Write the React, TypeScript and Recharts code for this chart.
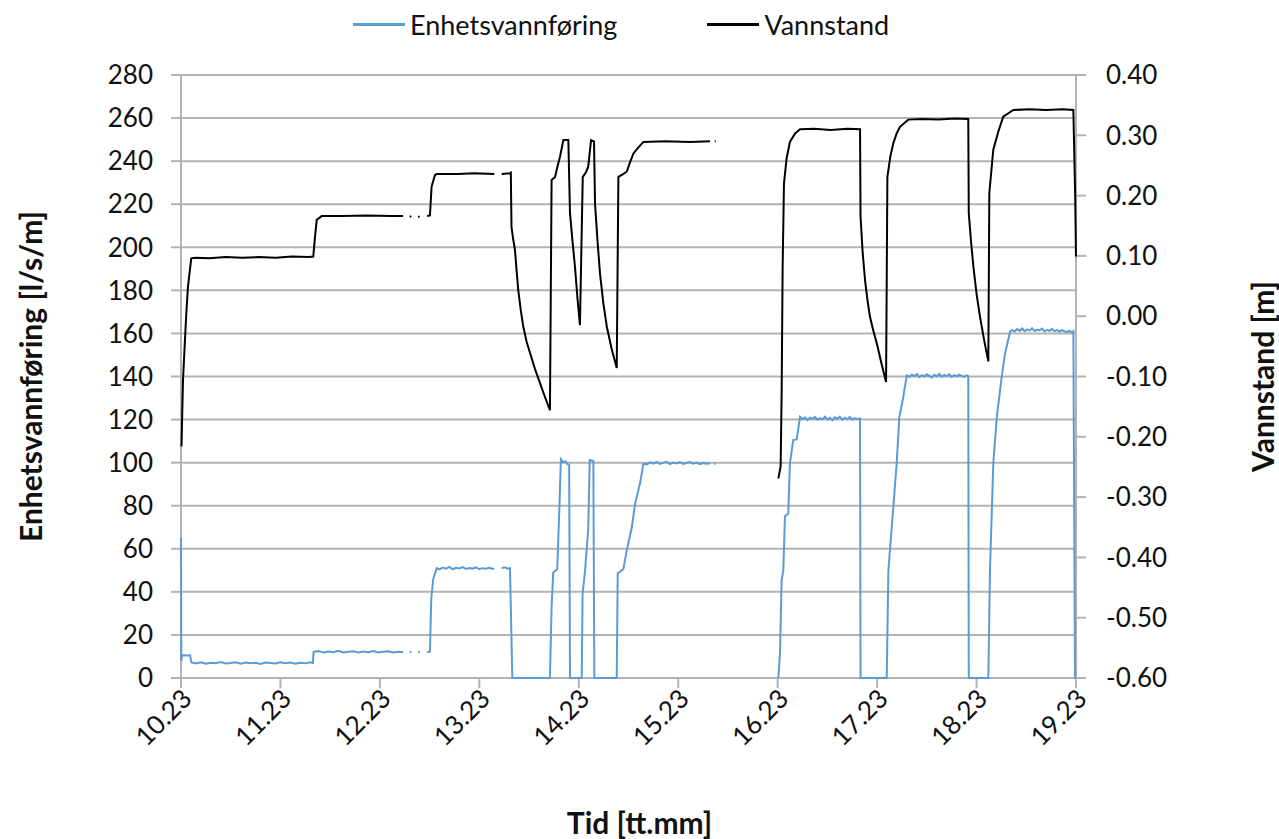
import { LineChart, Line, XAxis, YAxis, CartesianGrid, Legend } from 'recharts'

// time is minutes of the day (10.23 = 623)
const TIME_TICKS = [623, 683, 743, 803, 863, 923, 983, 1043, 1103, 1163]
const FLOW_TICKS = [0, 20, 40, 60, 80, 100, 120, 140, 160, 180, 200, 220, 240, 260, 280]
const LEVEL_TICKS = [-0.6, -0.5, -0.4, -0.3, -0.2, -0.1, 0, 0.1, 0.2, 0.3, 0.4]

// Enhetsvannføring [l/s/m]
const flowPoints: [number, number | null][] = [
  [623, 65], [623.2, 8], [623.6, 10.5], [625, 10.6], [627, 10.4], [628.5, 10.5], [629.3, 7.2],
  [632, 6.8], [635, 7.3], [638, 6.6], [641, 7.1], [644, 6.9], [647, 7.4], [650, 6.7], [653, 7.0],
  [656, 7.3], [659, 6.6], [662, 7.2], [665, 6.8], [668, 7.1], [671, 6.5], [674, 7.2], [677, 7.0],
  [680, 6.7], [683, 7.3], [686, 6.9], [689, 7.2], [692, 6.6], [695, 7.1], [698, 6.8], [701, 7.3],
  [702.6, 7.0], [703, 12.1], [706, 12.5], [709, 11.8], [712, 12.3], [715, 12.0], [718, 12.6],
  [721, 11.9], [724, 12.2], [727, 12.4], [730, 11.8], [733, 12.3], [736, 12.0], [739, 12.5],
  [742, 11.9], [745, 12.2], [748, 12.4], [751, 11.9], [754, 12.2], [757, 12.0], [757.2, null],
  [761, 12], [762, 12.2], [762.2, null], [766, 12.1], [767, 12], [767.2, null],
  [771.5, 12], [773.2, 12.2], [774, 37], [775.2, 46], [777.3, 51],
  [779, 50.4], [781, 51.3], [783, 50.8], [785, 51.6], [787, 50.5], [789, 51.2], [791, 50.9],
  [793, 51.5], [795, 50.6], [797, 51.1], [799, 50.8], [801, 51.4], [803, 50.5], [805, 51.0],
  [807, 50.7], [809, 51.2], [811, 50.6], [812, 50.9], [812.2, null],
  [816.5, 51], [818.5, 51.4], [820, 50.8], [821.5, 51], [822, 33], [822.9, 0],
  [845.6, 0], [846.6, 33], [847.6, 49], [850, 50.5], [851.3, 79], [852.2, 101.5], [853.5, 100.2],
  [855, 100.6], [856.1, 99.3], [857.2, 99], [857.7, 0], [864.8, 0], [865.3, 39], [866.8, 50],
  [868.7, 69], [869.6, 101.2], [871.8, 100.8], [872.4, 0], [885.9, 0], [886.5, 48.6],
  [889.9, 50.5], [892, 59.5], [895, 70], [897, 81], [900, 90.5], [902, 99.6],
  [904, 99.2], [906, 100.1], [908, 99.5], [910, 100.3], [912, 99.4], [914, 99.9], [916, 100.4],
  [918, 99.3], [920, 100.0], [922, 99.6], [924, 100.2], [926, 99.4], [928, 99.8], [930, 100.3],
  [932, 99.5], [934, 100.0], [936, 99.3], [938, 99.8], [940, 99.5], [942.2, 99.7], [942.4, null],
  [944.8, 99.6], [945.6, 99.4], [945.8, null],
  [983.4, 0], [984.4, 11.5], [985.4, 45.5], [986.4, 50], [987.4, 75], [989.4, 76.5], [990.4, 99.7],
  [992.4, 110.5], [994.5, 110.8], [996.5, 121.3],
  [998, 120.2], [999.5, 121.0], [1001, 119.8], [1002.5, 120.9], [1004, 120.3], [1005.5, 121.2],
  [1007, 119.9], [1008.5, 120.7], [1010, 120.1], [1011.5, 121.3], [1013, 120.0], [1014.5, 120.8],
  [1016, 119.7], [1017.5, 121.1], [1019, 120.4], [1020.5, 121.4], [1022, 120.0], [1023.5, 120.9],
  [1025, 120.2], [1026.5, 121.2], [1028, 119.9], [1029.5, 120.7], [1031, 120.3], [1032.7, 120.5],
  [1033, 0], [1048.8, 0], [1049.8, 50], [1052.8, 79.5], [1054.8, 99.7], [1056.4, 121],
  [1058.8, 130.6], [1060.9, 140.5],
  [1062.5, 139.8], [1064, 140.9], [1065.5, 140.2], [1067, 141.1], [1068.5, 139.7], [1070, 140.6],
  [1071.5, 140.0], [1073, 141.0], [1074.5, 140.3], [1076, 139.6], [1077.5, 140.8], [1079, 140.1],
  [1080.5, 141.2], [1082, 139.9], [1083.5, 140.7], [1085, 140.2], [1086.5, 141.0], [1088, 139.8],
  [1089.5, 140.6], [1091, 140.1], [1092.5, 140.9], [1094, 140.3], [1095.5, 139.8], [1097, 140.5],
  [1098, 140.2], [1098.3, 0], [1110.1, 0], [1111.1, 50], [1113.1, 99.7], [1115.2, 121],
  [1118.2, 140], [1120.2, 150.7], [1123.2, 160.8],
  [1124.5, 161.6], [1126, 160.9], [1127.5, 162.0], [1129, 161.2], [1130.5, 162.3], [1132, 161.0],
  [1133.5, 161.9], [1135, 161.3], [1136.5, 162.4], [1138, 161.1], [1139.5, 161.8], [1141, 161.4],
  [1142.5, 162.2], [1144, 160.9], [1145.5, 161.7], [1147, 161.2], [1148.5, 162.1], [1150, 161.0],
  [1151.5, 161.6], [1153, 160.8], [1154.5, 161.5], [1156, 161.0], [1157.5, 160.6], [1159, 161.3],
  [1160.5, 160.4], [1161.4, 161], [1162.4, 0], [1163, 0],
]

// Vannstand [m]
const levelPoints: [number, number | null][] = [
  [623.3, -0.216], [624.2, -0.106], [625.2, -0.05], [626.2, 0.005], [627.2, 0.049], [629.2, 0.096],
  [632, 0.097], [640, 0.096], [650, 0.098], [660, 0.097], [670, 0.098], [680, 0.097], [690, 0.099],
  [700, 0.098], [702.8, 0.099], [703.8, 0.13], [704.9, 0.16], [707.9, 0.166], [720, 0.166],
  [735, 0.167], [750, 0.166], [757, 0.166], [757.2, null],
  [761, 0.165], [762, 0.166], [762.2, null], [766, 0.165], [767, 0.165], [767.2, null],
  [771.5, 0.166], [773.2, 0.167], [774.2, 0.215], [776.2, 0.234], [777.3, 0.236], [790, 0.236],
  [800, 0.237], [812, 0.236], [812.2, null], [816.5, 0.236], [821.5, 0.237], [822, 0.238],
  [822.4, 0.148], [823.4, 0.128], [824.5, 0.11], [825.5, 0.075], [826.5, 0.043], [828, 0.01],
  [829.5, -0.017], [831.5, -0.042], [833.6, -0.061], [836.5, -0.087], [839.6, -0.111],
  [842.6, -0.134], [845.6, -0.156], [846.6, 0.226], [848.7, 0.231], [850.3, 0.25], [851.7, 0.265],
  [853.7, 0.292], [856.7, 0.292], [857.7, 0.171], [859.2, 0.125], [860.7, 0.082], [862.2, 0.03],
  [863.7, -0.015], [865.4, 0.231], [867.2, 0.238], [868.7, 0.248], [870.4, 0.292], [872.2, 0.29],
  [872.8, 0.187], [874.3, 0.125], [875.8, 0.071], [877.8, 0.022], [879.9, -0.017], [882.8, -0.054],
  [885.9, -0.086], [886.9, 0.231], [889.5, 0.235], [892, 0.24], [894, 0.256], [896, 0.27],
  [899, 0.28], [902, 0.289], [915, 0.29], [930, 0.289], [942.2, 0.29], [942.4, null],
  [945, 0.29], [945.6, 0.29], [945.8, null],
  [983.4, -0.269], [984.8, -0.249], [985.4, -0.128], [986.0, 0.082], [986.8, 0.22], [988.4, 0.262],
  [990.4, 0.289], [993.5, 0.303], [996.5, 0.31], [1005, 0.311], [1015, 0.309], [1025, 0.311],
  [1032.7, 0.31], [1033, 0.165], [1034.3, 0.105], [1035.7, 0.06], [1037.2, 0.026],
  [1038.7, -0.001], [1040.8, -0.025], [1042.8, -0.045], [1045.6, -0.078], [1048.4, -0.109],
  [1049.2, 0.231], [1051, 0.265], [1052.8, 0.287], [1054.8, 0.303], [1056.8, 0.314],
  [1061.8, 0.326], [1070, 0.327], [1080, 0.326], [1090, 0.328], [1098, 0.327], [1098.3, 0.171],
  [1099.7, 0.123], [1101.1, 0.082], [1103.1, 0.035], [1105.1, -0.001], [1107.6, -0.04],
  [1110.1, -0.075], [1110.7, 0.204], [1113.1, 0.276], [1116.1, 0.306], [1119.1, 0.331],
  [1125.2, 0.342], [1135, 0.343], [1145, 0.342], [1155, 0.343], [1161.4, 0.342],
  [1162.5, 0.2], [1163, 0.099],
]

const flowData = flowPoints.map(([t, v]) => ({ t, v }))
const levelData = levelPoints.map(([t, v]) => ({ t, v }))

const CHART_W = 1279
const CHART_H = 839
const BLUE = '#5b9bd5'
const GRID = '#b3b3b3'
const FONT = 'Lato, sans-serif'

const fmtTime = (v: number) => `${Math.floor(v / 60)}.${String(v % 60).padStart(2, '0')}`

function TimeTick({ x, y, payload }: any) {
  return (
    <text
      transform={`translate(${x + 6},${y + 4}) rotate(-45)`}
      textAnchor="end"
      dy="0.35em"
      fontSize={26}
      fontFamily={FONT}
      fill="#111"
    >
      {fmtTime(payload.value)}
    </text>
  )
}

function LegendBox({ payload }: any) {
  return (
    <div style={{ display: 'flex', alignItems: 'center', paddingLeft: 353, fontFamily: FONT, fontSize: 27, color: '#111' }}>
      {(payload ?? []).map((p: any, i: number) => (
        <div key={p.value} style={{ display: 'flex', alignItems: 'center', marginLeft: i === 0 ? 0 : 90 }}>
          <div style={{ width: 52, height: 3, background: p.color, marginRight: 5 }} />
          <span>{p.value}</span>
        </div>
      ))}
    </div>
  )
}

const titleStyle = { fontFamily: FONT, fontWeight: 'bold', fontSize: 30, fill: '#111' }

export default function App() {
  return (
    <div style={{ position: 'absolute', left: 0, top: 0, fontFamily: FONT }}>
      <LineChart width={CHART_W} height={CHART_H} margin={{ top: 75, right: 0, bottom: 0, left: 0 }}>
        <CartesianGrid yAxisId="flow" vertical={false} stroke={GRID} strokeWidth={2} />
        <XAxis
          dataKey="t"
          type="number"
          domain={[623, 1163]}
          ticks={TIME_TICKS}
          height={161}
          tickSize={10}
          tick={<TimeTick />}
          axisLine={{ stroke: GRID, strokeWidth: 2 }}
          tickLine={{ stroke: GRID, strokeWidth: 2 }}
          label={{
            content: () => (
              <text x={CHART_W / 2} y={822} textAnchor="middle" dominantBaseline="central" style={titleStyle}>
                Tid [tt.mm]
              </text>
            ),
          }}
        />
        <YAxis
          yAxisId="flow"
          width={181}
          domain={[0, 280]}
          ticks={FLOW_TICKS}
          tickSize={10}
          tickMargin={18}
          tick={{ fontSize: 26, fontFamily: FONT, fill: '#111' }}
          axisLine={{ stroke: GRID, strokeWidth: 2 }}
          tickLine={{ stroke: GRID, strokeWidth: 2 }}
          label={{
            content: ({ viewBox }: any) => (
              <text
                transform={`translate(30,${viewBox.y + viewBox.height / 2}) rotate(-90)`}
                textAnchor="middle"
                dominantBaseline="central"
                style={titleStyle}
              >
                Enhetsvannføring [l/s/m]
              </text>
            ),
          }}
        />
        <YAxis
          yAxisId="level"
          orientation="right"
          width={203}
          domain={[-0.6, 0.4]}
          ticks={LEVEL_TICKS}
          tickFormatter={(v: number) => v.toFixed(2)}
          tickSize={10}
          tickMargin={20}
          tick={{ fontSize: 26, fontFamily: FONT, fill: '#111' }}
          axisLine={{ stroke: GRID, strokeWidth: 2 }}
          tickLine={{ stroke: GRID, strokeWidth: 2 }}
          label={{
            content: ({ viewBox }: any) => (
              <text
                transform={`translate(1262,${viewBox.y + viewBox.height / 2}) rotate(-90)`}
                textAnchor="middle"
                dominantBaseline="central"
                style={titleStyle}
              >
                Vannstand [m]
              </text>
            ),
          }}
        />
        <Legend
          layout="horizontal"
          align="center"
          verticalAlign="middle"
          wrapperStyle={{ top: 8, left: 0, width: CHART_W }}
          content={<LegendBox />}
        />
        <Line
          yAxisId="flow"
          data={flowData}
          dataKey="v"
          name="Enhetsvannføring"
          type="linear"
          stroke={BLUE}
          strokeWidth={2}
          dot={false}
          connectNulls={false}
          isAnimationActive={false}
          zIndex={600}
        />
        <Line
          yAxisId="level"
          data={levelData}
          dataKey="v"
          name="Vannstand"
          type="linear"
          stroke="#000"
          strokeWidth={2}
          dot={false}
          connectNulls={false}
          isAnimationActive={false}
          zIndex={610}
        />
      </LineChart>
    </div>
  )
}
